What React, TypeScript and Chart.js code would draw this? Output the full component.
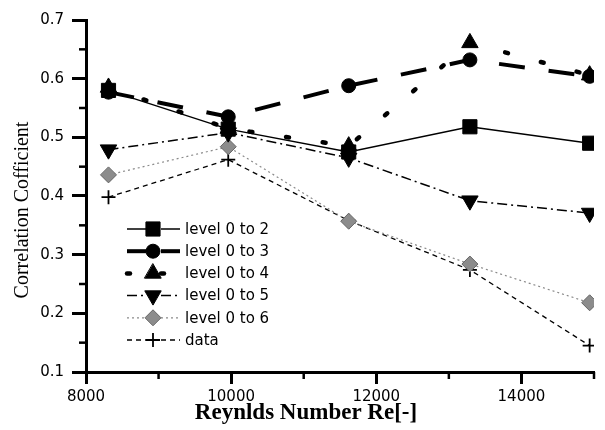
import React, { useEffect, useRef } from 'react';
import { Chart, registerables } from 'chart.js';
import { drawPoint } from 'chart.js/helpers';

Chart.register(...registerables);

const reynolds = [8310, 9960, 11620, 13290, 14940];
const level02 = [0.58, 0.514, 0.475, 0.518, 0.49];
const level03 = [0.577, 0.535, 0.588, 0.632, 0.604];
const level04 = [0.585, 0.515, 0.485, 0.661, 0.606];
const level05 = [0.479, 0.508, 0.465, 0.392, 0.371];
const level06 = [0.436, 0.484, 0.357, 0.284, 0.218];
const dataSeries = [0.398, 0.462, 0.358, 0.274, 0.145];
const seriesLabels = ['level 0 to 2', 'level 0 to 3', 'level 0 to 4', 'level 0 to 5', 'level 0 to 6', 'data'];
const xMin = 8000;
const xMax = 15000;
const xMajorStep = 2000;
const xMinorStep = 1000;
const yMin = 0.1;
const yMax = 0.7;
const yMinorStep = 0.05;
const xTitle = 'Reynlds Number Re[-]';
const yTitle = 'Correlation Cofficient';

const isXMajor = (v: number) => Math.abs((v - xMin) % xMajorStep) < 1e-6 && v < xMax;
const isYMajor = (v: number) => Math.abs(v * 10 - Math.round(v * 10)) < 1e-6;

const toPoints = (ys: number[]) => ys.map((y, i) => ({ x: reynolds[i], y }));

const decorPlugin = {
  id: 'decor',
  afterDraw(chart: any) {
    const ctx = chart.ctx;
    const area = chart.chartArea;
    const xs = chart.scales.x;
    const ys = chart.scales.y;
    ctx.save();
    // minor ticks
    ctx.strokeStyle = '#000';
    ctx.lineWidth = 2.5;
    ctx.setLineDash([]);
    for (let v = xMin; v <= xMax + 1e-6; v += xMinorStep) {
      if (isXMajor(v)) continue;
      const px = xs.getPixelForValue(v);
      ctx.beginPath();
      ctx.moveTo(px, area.bottom);
      ctx.lineTo(px, area.bottom + 7);
      ctx.stroke();
    }
    for (let k = 0; k <= Math.round((yMax - yMin) / yMinorStep); k++) {
      const v = yMin + k * yMinorStep;
      if (isYMajor(v)) continue;
      const py = ys.getPixelForValue(v);
      ctx.beginPath();
      ctx.moveTo(area.left, py);
      ctx.lineTo(area.left - 7, py);
      ctx.stroke();
    }

    // legend
    const lx = area.left + 41;
    const ly = area.top + 209;
    chart.data.datasets.forEach((ds: any, i: number) => {
      const y = ly + i * 22.2;
      ctx.save();
      ctx.strokeStyle = ds.borderColor;
      ctx.lineWidth = ds.borderWidth;
      ctx.lineCap = ds.borderCapStyle || 'butt';
      ctx.setLineDash(ds.borderDash || []);
      ctx.beginPath();
      ctx.moveTo(lx, y);
      ctx.lineTo(lx + 19, y);
      ctx.stroke();
      ctx.beginPath();
      ctx.moveTo(lx + 34, y);
      ctx.lineTo(lx + 53, y);
      ctx.stroke();
      ctx.setLineDash([]);
      ctx.fillStyle = ds.pointBackgroundColor;
      ctx.strokeStyle = ds.pointBorderColor;
      ctx.lineWidth = ds.pointBorderWidth;
      drawPoint(ctx, {
        pointStyle: ds.pointStyle,
        rotation: ds.pointRotation || 0,
        radius: ds.pointRadius,
        borderWidth: ds.pointBorderWidth,
      }, lx + 26, y);
      ctx.restore();
      ctx.fillStyle = '#000';
      ctx.font = '15px "DejaVu Sans"';
      ctx.textBaseline = 'middle';
      ctx.textAlign = 'left';
      ctx.fillText(ds.label, lx + 58, y + 1);
    });

    // axis titles
    ctx.fillStyle = '#000';
    ctx.textAlign = 'center';
    ctx.textBaseline = 'middle';
    ctx.font = 'bold 23px "Liberation Serif"';
    ctx.fillText(xTitle, 306, 413);
    ctx.save();
    ctx.translate(23, 210);
    ctx.rotate(-Math.PI / 2);
    ctx.font = '20px "Liberation Serif"';
    ctx.fillText(yTitle, 0, 0);
    ctx.restore();
    ctx.restore();
  },
};

export default function App() {
  const canvasRef = useRef<HTMLCanvasElement | null>(null);

  useEffect(() => {
    const canvas = canvasRef.current;
    if (!canvas) return;
    const base = {
      borderColor: '#000',
      pointBackgroundColor: '#000',
      pointBorderColor: '#000',
      pointBorderWidth: 1,
      fill: false,
      tension: 0,
    };
    const chart = new Chart(canvas, {
      type: 'line',
      data: {
        datasets: [
          { ...base, label: seriesLabels[0], data: toPoints(level02), borderWidth: 1.5, pointStyle: 'rect', pointRadius: 10 },
          { ...base, label: seriesLabels[1], data: toPoints(level03), borderWidth: 4, borderDash: [26, 24], pointStyle: 'circle', pointRadius: 7 },
          { ...base, label: seriesLabels[2], data: toPoints(level04), borderWidth: 4.5, borderDash: [3, 34], borderCapStyle: 'round', pointStyle: 'triangle', pointRadius: 9.5 },
          { ...base, label: seriesLabels[3], data: toPoints(level05), borderWidth: 1.5, borderDash: [10, 4, 2, 4], pointStyle: 'triangle', pointRotation: 180, pointRadius: 9.5 },
          { ...base, label: seriesLabels[4], data: toPoints(level06), borderColor: '#8a8a8a', borderWidth: 1.2, borderDash: [2, 3], pointStyle: 'rectRot', pointRadius: 8, pointBackgroundColor: '#8c8c8c', pointBorderColor: '#666' },
          { ...base, label: seriesLabels[5], data: toPoints(dataSeries), borderWidth: 1.3, borderDash: [5, 4], pointStyle: 'cross', pointRadius: 7, pointBorderWidth: 1.8 },
        ],
      } as any,
      options: {
        animation: false,
        responsive: true,
        maintainAspectRatio: false,
        layout: { padding: { top: 20, right: 5, left: 0, bottom: 0 } },
        plugins: { legend: { display: false }, tooltip: { enabled: false } },
        scales: {
          x: {
            type: 'linear',
            min: xMin,
            max: xMax,
            afterFit: (s: any) => { s.height = 58; },
            border: { display: true, color: '#000', width: 3 },
            grid: {
              display: true,
              drawOnChartArea: false,
              drawTicks: true,
              tickLength: 12,
              tickWidth: 3,
              tickColor: (c: any) => (c.tick && isXMajor(c.tick.value) ? '#000' : 'rgba(0,0,0,0)'),
            },
            ticks: {
              stepSize: xMinorStep,
              autoSkip: false,
              maxRotation: 0,
              padding: 4,
              color: '#000',
              font: { family: '"DejaVu Sans"', size: 15 },
              callback: (v: any) => (isXMajor(Number(v)) ? String(v) : ''),
            },
          },
          y: {
            type: 'linear',
            min: yMin,
            max: yMax,
            afterFit: (s: any) => { s.width = 86; },
            border: { display: true, color: '#000', width: 3 },
            grid: {
              display: true,
              drawOnChartArea: false,
              drawTicks: true,
              tickLength: 14,
              tickWidth: 3,
              tickColor: (c: any) => (c.tick && isYMajor(c.tick.value) ? '#000' : 'rgba(0,0,0,0)'),
            },
            ticks: {
              stepSize: yMinorStep,
              autoSkip: false,
              padding: 8,
              color: '#000',
              font: { family: '"DejaVu Sans"', size: 15 },
              callback: (v: any) => (isYMajor(Number(v)) ? Number(v).toFixed(1) : ''),
            },
          },
        },
      } as any,
      plugins: [decorPlugin],
    });
    return () => chart.destroy();
  }, []);

  return (
    <div style={{ position: 'absolute', left: 0, top: 0, width: 605, height: 430, background: '#fff' }}>
      <canvas ref={canvasRef} />
    </div>
  );
}
